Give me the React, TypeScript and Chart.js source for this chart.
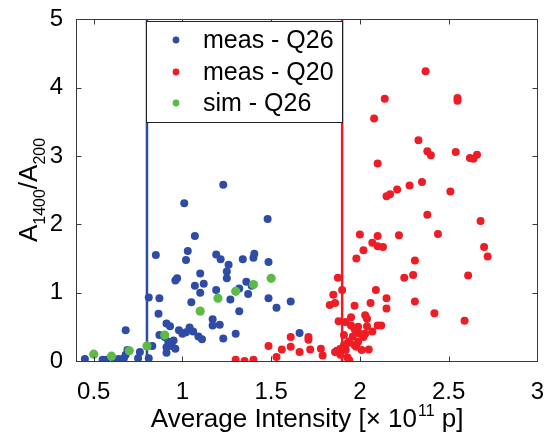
import { useEffect, useRef } from "react";
import { Chart, registerables } from "chart.js";

Chart.register(...registerables);

const xTicks = [0.5, 1, 1.5, 2, 2.5, 3];
const yTicks = [0, 1, 2, 3, 4, 5];
const xRange = [0.4, 3];
const yRange = [0, 5];

const legendLabels = ["meas - Q26", "meas - Q20", "sim - Q26"];
const thresholdQ26 = 0.8;
const thresholdQ20 = 1.9;

const measQ26: [number, number][] = [
  [0.45, 0.03], [0.55, 0.02], [0.57, 0.02], [0.62, 0.01], [0.64, 0.03], [0.66, 0.0],
  [0.67, 0.04], [0.68, 0.09], [0.69, 0.16], [0.68, 0.45], [0.75, 0.04], [0.76, 0.13],
  [0.81, 0.04], [0.83, 0.22], [0.81, 0.93], [0.85, 1.55], [0.87, 0.92], [0.865, 0.69],
  [0.87, 0.38], [0.9, 0.35], [0.91, 0.55], [0.93, 0.51], [0.91, 0.12], [0.92, 0.28],
  [0.94, 0.22], [0.95, 0.3], [0.96, 0.18], [0.91, 0.2], [0.96, 1.18], [0.97, 1.21],
  [0.98, 0.45], [1.0, 0.4], [1.02, 0.42], [1.04, 0.49], [1.06, 0.43], [1.01, 2.31],
  [1.02, 1.48], [1.03, 1.61], [1.05, 0.86], [1.07, 1.83], [1.07, 1.1], [1.1, 1.0],
  [1.12, 1.13], [1.1, 1.28], [1.09, 0.36], [1.11, 0.32], [1.17, 0.61], [1.17, 0.52],
  [1.21, 0.53], [1.19, 1.04], [1.19, 1.56], [1.215, 1.49], [1.23, 0.33], [1.23, 2.58],
  [1.25, 1.21], [1.25, 1.31], [1.26, 1.41], [1.27, 0.9], [1.3, 0.4], [1.32, 0.73],
  [1.32, 1.06], [1.34, 1.49], [1.36, 1.16], [1.37, 0.98], [1.39, 1.1], [1.4, 1.51],
  [1.405, 1.57], [1.48, 2.08], [1.485, 1.45], [1.485, 0.92], [1.53, 0.78], [1.61, 0.87],
  [1.66, 0.41],
];

const measQ20: [number, number][] = [
  [1.3, 0.02], [1.35, 0.0], [1.4, 0.02], [1.485, 0.22], [1.53, 0.06], [1.56, 0.17],
  [1.61, 0.35], [1.61, 0.21], [1.66, 0.13], [1.71, 0.35], [1.71, 0.31], [1.72, 0.17],
  [1.78, 0.18], [1.79, 0.08], [1.83, 0.82], [1.86, 0.85], [1.85, 0.97], [1.876, 1.22],
  [1.9, 1.04], [1.88, 0.58], [1.92, 0.57], [1.91, 0.38], [1.89, 0.18], [1.87, 0.15],
  [1.86, 0.13], [1.92, 0.16], [1.89, 0.09], [1.93, 0.05], [1.94, 0.01], [1.91, 0.23],
  [1.93, 0.26], [1.94, 0.29], [1.96, 0.36], [1.97, 0.23], [1.98, 0.21], [1.99, 0.28],
  [1.95, 0.64], [1.97, 0.81], [1.95, 0.52], [1.97, 0.47], [1.99, 0.5], [1.98, 0.43],
  [2.0, 0.4], [2.02, 0.35], [2.03, 0.4], [2.01, 0.16], [2.05, 0.17], [2.03, 0.67],
  [2.04, 0.62], [2.04, 0.51], [2.07, 0.43], [2.1, 0.52], [2.12, 0.52], [2.06, 0.85],
  [2.09, 1.04], [2.15, 0.92], [2.15, 0.77], [1.98, 1.5], [2.0, 1.85], [2.02, 1.62],
  [2.07, 1.73], [2.1, 1.83], [2.1, 1.68], [2.13, 1.67], [2.22, 1.84], [2.25, 1.22],
  [2.3, 1.26], [2.31, 1.47], [2.31, 0.87], [2.38, 2.14], [2.37, 4.24], [2.14, 3.84],
  [2.08, 3.55], [2.33, 3.23], [2.38, 3.07], [2.4, 3.01], [2.1, 2.89], [2.35, 2.62],
  [2.28, 2.57], [2.21, 2.51], [2.17, 2.44], [2.15, 2.41], [2.55, 3.85], [2.55, 3.81],
  [2.54, 3.06], [2.62, 2.97], [2.64, 2.96], [2.66, 3.02], [2.51, 2.48], [2.68, 2.05],
  [2.44, 1.86], [2.7, 1.67], [2.72, 1.53], [2.61, 1.25], [2.42, 0.7], [2.59, 0.59],
];

const simQ26: [number, number][] = [
  [0.5, 0.1], [0.6, 0.07], [0.7, 0.15], [0.8, 0.22], [0.9, 0.38],
  [1.1, 0.73], [1.2, 0.92], [1.3, 1.02], [1.4, 1.12], [1.5, 1.21],
];

const BLUE = "#2E4CA6";
const RED = "#EE1C24";
const GREEN = "#5CBB46";
const FONT = "'Liberation Sans', Arial, sans-serif";

const toPts = (arr: [number, number][]) => arr.map(([x, y]) => ({ x, y }));

const framePlugin = {
  id: "frame",
  afterDatasetsDraw(chart: any) {
    const { ctx, chartArea: a, scales } = chart;
    const xs = scales.x;
    const ys = scales.y;
    ctx.save();
    ctx.strokeStyle = "#3a3a3a";
    ctx.lineWidth = 1;
    const L = Math.round(a.left) + 0.5;
    const R = Math.round(a.right) + 0.5;
    const T = Math.round(a.top) + 0.5;
    const B = Math.round(a.bottom) + 0.5;
    ctx.strokeRect(L, T, R - L, B - T);
    const tl = 5;
    ctx.beginPath();
    xTicks.forEach((v) => {
      const px = Math.round(xs.getPixelForValue(v)) + 0.5;
      ctx.moveTo(px, B);
      ctx.lineTo(px, B - tl);
      ctx.moveTo(px, T);
      ctx.lineTo(px, T + tl);
    });
    yTicks.forEach((v) => {
      const py = Math.round(ys.getPixelForValue(v)) + 0.5;
      ctx.moveTo(L, py);
      ctx.lineTo(L + tl, py);
      ctx.moveTo(R, py);
      ctx.lineTo(R - tl, py);
    });
    ctx.stroke();

    // legend
    const lx = 146.5, ly = 21.5, lw = 196, lh = 101;
    ctx.fillStyle = "#ffffff";
    ctx.fillRect(lx, ly, lw, lh);
    ctx.strokeStyle = "#222";
    ctx.strokeRect(lx, ly, lw, lh);
    const colors = [BLUE, RED, GREEN];
    const rows = [40, 72, 103];
    ctx.font = `25px ${FONT}`;
    ctx.textBaseline = "middle";
    ctx.textAlign = "left";
    legendLabels.forEach((lab, i) => {
      ctx.fillStyle = colors[i];
      ctx.beginPath();
      ctx.arc(176, rows[i], 3.4, 0, Math.PI * 2);
      ctx.fill();
      ctx.fillStyle = "#000";
      ctx.fillText(lab, 203, rows[i] + 1);
    });

    // x title
    const big = `26px ${FONT}`;
    const small = `16px ${FONT}`;
    const p1 = "Average Intensity [\u00d7 10";
    const p2 = "11";
    const p3 = " p]";
    ctx.font = big;
    const w1 = ctx.measureText(p1).width;
    const w3 = ctx.measureText(p3).width;
    ctx.font = small;
    const w2 = ctx.measureText(p2).width;
    const total = w1 + w2 + w3;
    let x0 = (a.left + a.right) / 2 - total / 2;
    const base = 427;
    ctx.fillStyle = "#000";
    ctx.textBaseline = "alphabetic";
    ctx.font = big;
    ctx.fillText(p1, x0, base);
    x0 += w1;
    ctx.font = small;
    ctx.fillText(p2, x0 + 1, base - 11);
    x0 += w2 + 1;
    ctx.font = big;
    ctx.fillText(p3, x0, base);

    // y title
    const parts: [string, boolean][] = [["A", false], ["1400", true], ["/A", false], ["200", true]];
    let tw = 0;
    parts.forEach(([t, s]) => {
      ctx.font = s ? small : big;
      tw += ctx.measureText(t).width;
    });
    ctx.translate(37, 190);
    ctx.rotate(-Math.PI / 2);
    let cx = -tw / 2;
    parts.forEach(([t, s]) => {
      ctx.font = s ? small : big;
      ctx.fillText(t, cx, s ? 8 : 0);
      cx += ctx.measureText(t).width;
    });
    ctx.restore();
  },
};

export default function App() {
  const ref = useRef<HTMLCanvasElement>(null);
  useEffect(() => {
    if (!ref.current) return;
    const chart = new Chart(ref.current, {
      type: "scatter",
      data: {
        datasets: [
          {
            label: legendLabels[2],
            data: toPts(simQ26),
            backgroundColor: GREEN,
            borderWidth: 0,
            pointRadius: 4.6,
            order: 0,
          },
          {
            label: legendLabels[0],
            data: toPts(measQ26),
            backgroundColor: BLUE,
            borderWidth: 0,
            pointRadius: 4,
            order: 1,
          },
          {
            label: legendLabels[1],
            data: toPts(measQ20),
            backgroundColor: RED,
            borderWidth: 0,
            pointRadius: 4,
            order: 2,
          },
          {
            label: "thr Q26",
            type: "line",
            data: [{ x: thresholdQ26, y: yRange[0] }, { x: thresholdQ26, y: yRange[1] }],
            borderColor: BLUE,
            borderWidth: 2.5,
            pointRadius: 0,
            showLine: true,
            order: 3,
          } as any,
          {
            label: "thr Q20",
            type: "line",
            data: [{ x: thresholdQ20, y: yRange[0] }, { x: thresholdQ20, y: yRange[1] }],
            borderColor: RED,
            borderWidth: 2.5,
            pointRadius: 0,
            showLine: true,
            order: 3,
          } as any,
        ],
      },
      options: {
        animation: false,
        responsive: false,
        maintainAspectRatio: false,
        layout: { padding: { top: 16, right: 13, left: 0, bottom: 0 } },
        plugins: { legend: { display: false }, tooltip: { enabled: false } },
        scales: {
          x: {
            type: "linear",
            min: xRange[0],
            max: xRange[1],
            grid: { display: false },
            border: { display: false },
            afterBuildTicks: (s: any) => {
              s.ticks = xTicks.map((v) => ({ value: v }));
            },
            afterFit: (s: any) => {
              s.height = 74;
            },
            ticks: {
              color: "#000",
              padding: 9,
              maxRotation: 0,
              font: { family: FONT, size: 24 },
              callback: (v: any) => String(v),
            },
          },
          y: {
            type: "linear",
            min: yRange[0],
            max: yRange[1],
            grid: { display: false },
            border: { display: false },
            afterBuildTicks: (s: any) => {
              s.ticks = yTicks.map((v) => ({ value: v }));
            },
            afterFit: (s: any) => {
              s.width = 76;
            },
            ticks: {
              color: "#000",
              padding: 5,
              font: { family: FONT, size: 24 },
              callback: (v: any) => String(v),
            },
          },
        },
      },
      plugins: [framePlugin],
    });
    return () => chart.destroy();
  }, []);
  return (
    <canvas
      ref={ref}
      width={553}
      height={435}
      style={{ position: "absolute", left: 0, top: 0, width: 553, height: 435 }}
    />
  );
}
